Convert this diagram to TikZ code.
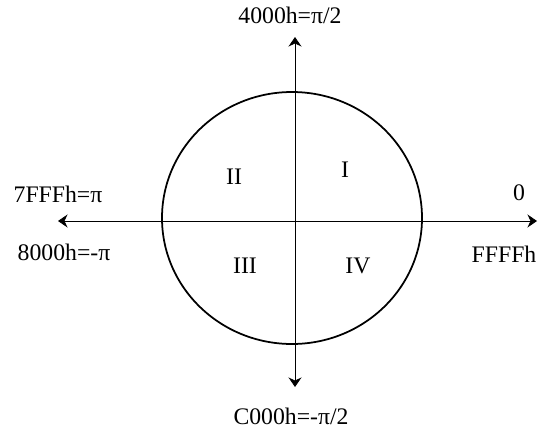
\documentclass[tikz,border=0pt]{standalone}
\usepackage{fontspec}
\setmainfont{Liberation Serif}
\usepackage{tikz}
\usetikzlibrary{arrows.meta,positioning}
\tikzset{
  axisline/.style={
    -{Stealth[length=0.19cm, width=0.26cm, inset=0.06cm]}, line width=0.5pt, black
  },
  unitcircle/.style={draw=black, line width=1pt},
  anglelabel/.style={font=\fontsize{13.5}{16}\selectfont, inner sep=0pt},
  quadlabel/.style={font=\fontsize{13.5}{16}\selectfont, inner sep=0pt},
}

\begin{document}
\begin{tikzpicture}[x=0.02cm, y=-0.02cm]
  \useasboundingbox (0,0) rectangle (538,433);
  % axes
  \coordinate (o) at (295,221);
  \coordinate (east) at (537,221);
  \coordinate (west) at (58,221);
  \coordinate (north) at (295,37);
  \coordinate (south) at (295,387);
  \draw[unitcircle] (292,218) ellipse [x radius=130, y radius=126];
  \draw[axisline] (o) -- (east);
  \draw[axisline] (o) -- (west);
  \draw[axisline] (o) -- (north);
  \draw[axisline] (o) -- (south);
  % angle labels
  \node[anglelabel] (top) at (290,15) {4000h=π/2};
  \node[anglelabel] (bot) at (291,416) {C000h=-π/2};
  \node[anglelabel] (lup) at (58,194) {7FFFh=π};
  \node[anglelabel] (ldn) at (64,252) {8000h=-π};
  \node[anglelabel] (rup) at (519,193) {0};
  \node[anglelabel] (rdn) at (504,254) {FFFFh};
  % quadrants
  \node[quadlabel] (q1) at (345,170) {I};
  \node[quadlabel] (q2) at (234,177) {II};
  \node[quadlabel] (q3) at (245,266) {III};
  \node[quadlabel] (q4) at (358,266) {IV};
\end{tikzpicture}
\end{document}
